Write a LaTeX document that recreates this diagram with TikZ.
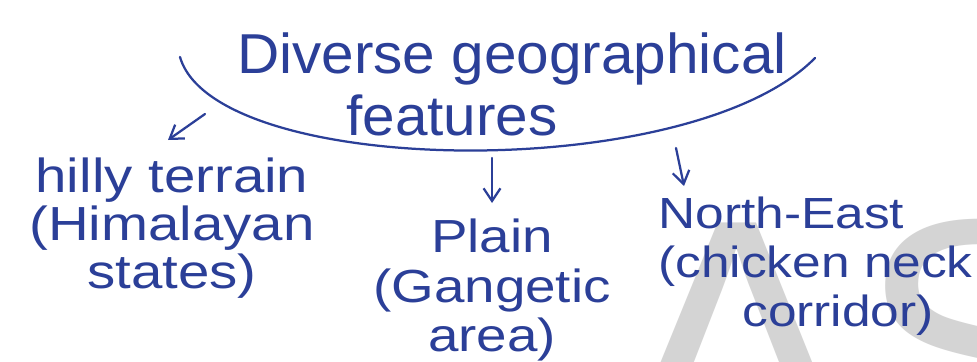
\documentclass[tikz,border=0pt]{standalone}
\usepackage{fontspec}
\setmainfont{Liberation Sans}
\newfontfamily\handfont[FakeStretch=1.18]{Liberation Sans}
\newfontfamily\titlefont[FakeStretch=1.04]{Liberation Sans}
\usetikzlibrary{arrows.meta}
\definecolor{ink}{HTML}{2B3F98}
\definecolor{wm}{HTML}{D4D4D4}
\tikzset{
  hand/.style={text=ink, inner sep=0pt},
  bracketline/.style={draw=ink, line width=1.6pt, line cap=round},
  pointer/.style={draw=ink, line width=1.6pt, line cap=round, -{Straight Barb[length=9pt,width=12pt,line width=1.6pt]}},
}
\begin{document}
\begin{tikzpicture}[x=0.025cm, y=-0.025cm]
\useasboundingbox (0,0) rectangle (977,361);
\clip (0,0) rectangle (977,361);
\fill[white] (0,0) rectangle (977,361);
% watermark
\node[anchor=base west, text=wm, inner sep=0pt, font=\fontsize{258}{258}\selectfont] (wmark) at (615,472) {AS};
% title
\node[hand, align=center, font=\titlefont\fontsize{40}{44}\selectfont] (title) at (512,84) {Diverse geographical\\\hspace*{-3cm}features};
% bracket arc
\draw[bracketline] (180,57) .. controls (215,178) and (690,185) .. (815,58);
% children
\node[hand, align=center, font=\handfont\fontsize{34}{34}\selectfont] (hilly) at (172,228) {hilly terrain\\(Himalayan\\states)};
\node[hand, align=center, font=\handfont\fontsize{33}{35}\selectfont] (plain) at (492,290) {Plain\\(Gangetic\\area)};
\node[hand, align=left, anchor=west, font=\handfont\fontsize{31}{35}\selectfont] (ne) at (658,266) {North-East\\(chicken neck\\\hspace*{2.1cm}corridor)};
% arrows
\coordinate (a1s) at (205,114);
\coordinate (a1e) at (168,140);
\coordinate (a2s) at (492,158);
\coordinate (a2e) at (492,203);
\coordinate (a3s) at (676,148);
\coordinate (a3e) at (684,186);
\draw[pointer] (a1s) -- (a1e);
\draw[pointer] (a2s) -- (a2e);
\draw[pointer] (a3s) -- (a3e);
\end{tikzpicture}
\end{document}
